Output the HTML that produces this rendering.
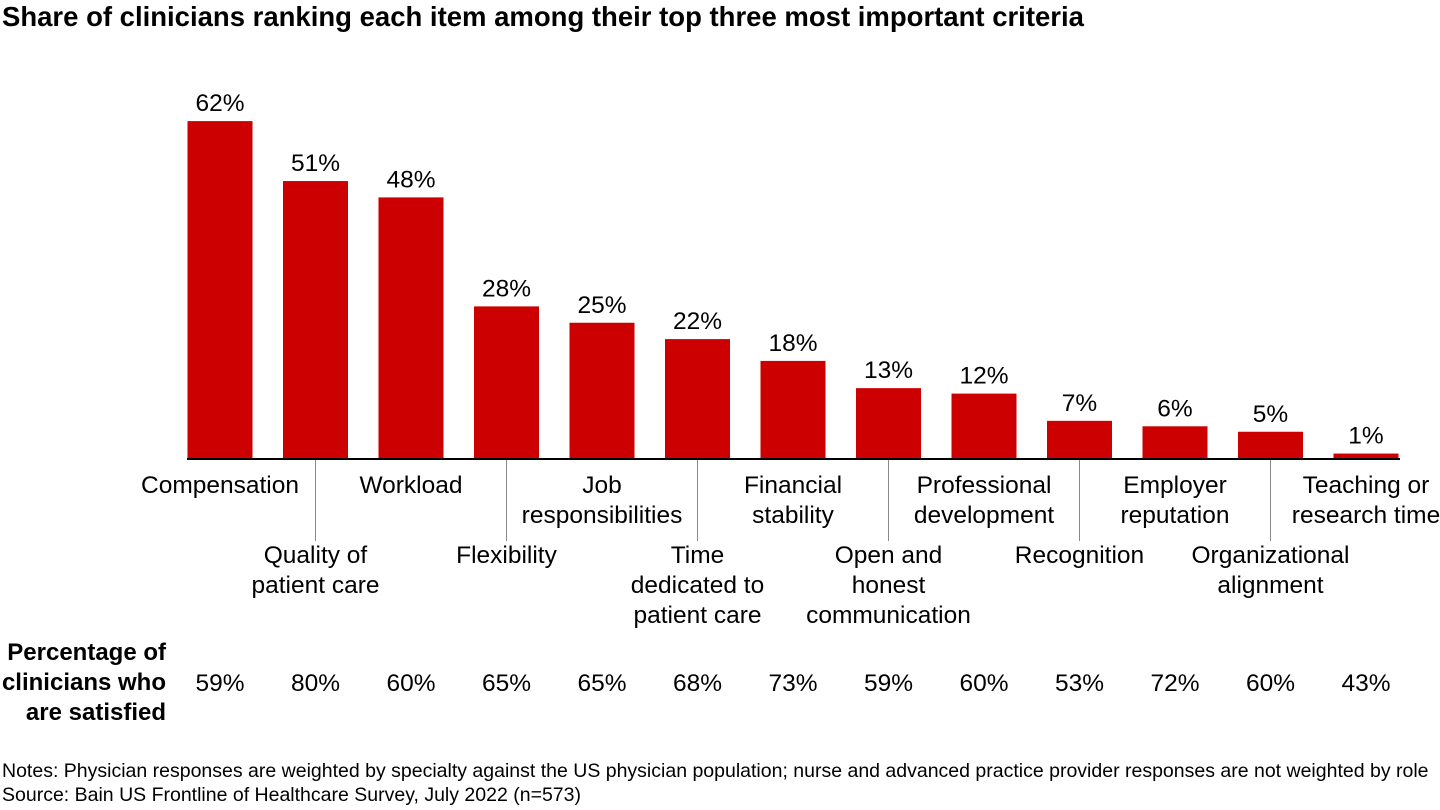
<!DOCTYPE html>
<html><head><meta charset="utf-8"><style>
body{margin:0;width:1440px;height:810px;background:#fff;font-family:"Liberation Sans",Arial,sans-serif;color:#000;overflow:hidden;position:relative}
.t{position:absolute;white-space:nowrap}
</style></head><body>
<div class="t" id="title" style="left:2px;top:1px;font-size:27.5px;font-weight:bold">Share of clinicians ranking each item among their top three most important criteria</div>
<svg id="chart" width="1440" height="640" style="position:absolute;left:0;top:60px" font-family="Liberation Sans, Arial, sans-serif"></svg>
<div class="t" style="left:0;top:638px;width:166px;text-align:right;font-size:24px;font-weight:bold;line-height:30px;white-space:normal">Percentage of clinicians who are satisfied</div>
<div class="t" id="notes" style="left:2px;top:760px;font-size:19.5px">Notes: Physician responses are weighted by specialty against the US physician population; nurse and advanced practice provider responses are not weighted by role</div>
<div class="t" id="source" style="left:2px;top:784px;font-size:19.5px">Source: Bain US Frontline of Healthcare Survey, July 2022 (n=573)</div>
<script>
const categories=[["Compensation"],["Quality of","patient care"],["Workload"],["Flexibility"],["Job","responsibilities"],["Time","dedicated to","patient care"],["Financial","stability"],["Open and","honest","communication"],["Professional","development"],["Recognition"],["Employer","reputation"],["Organizational","alignment"],["Teaching or","research time"]];
const shares=[62,51,48,28,25,22,18,13,12,7,6,5,1];
const satisfied=[59,80,60,65,65,68,73,59,60,53,72,60,43];
const svg=document.getElementById('chart');
const NS='http://www.w3.org/2000/svg';
const base=399, x0=220, step=95.5, bw=65, scale=5.45;
const xs=i=>x0+i*step;
const ys=v=>base-v*scale;
function mk(t,a){const e=document.createElementNS(NS,t);for(const k in a)e.setAttribute(k,a[k]);svg.appendChild(e);return e;}
shares.forEach((v,i)=>{
  const r=mk('rect',{x:xs(i)-bw/2,y:ys(v),width:bw,height:base-ys(v),fill:'#cc0000'});
  
  
  const t=mk('text',{x:xs(i),y:ys(v)-10,'text-anchor':'middle','font-size':24.5});
  t.textContent=v+'%';
  
  
  const odd=i%2===1;
  if(odd){const l=mk('line',{x1:xs(i),x2:xs(i),y1:base,y2:base+82,stroke:'#888','stroke-width':1});
    
    }
  const y1=odd?base+104:base+34;
  categories[i].forEach((s,j)=>{
    const c=mk('text',{x:xs(i),y:y1+j*30,'text-anchor':'middle','font-size':24.5});
    c.textContent=s;
    
    
  });
  const p=document.createElement('div');
  p.className='t';
  
  
  p.style.cssText='left:'+(xs(i)-60)+'px;top:670px;width:120px;text-align:center;font-size:24.5px';
  p.textContent=satisfied[i]+'%';
  document.body.appendChild(p);
});
const ax=mk('line',{x1:187,x2:1400,y1:base,y2:base,stroke:'#000','stroke-width':2});


</script>
</body></html>
